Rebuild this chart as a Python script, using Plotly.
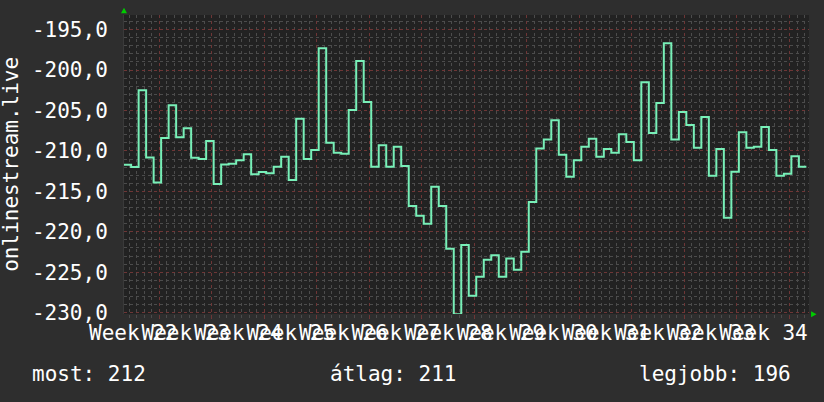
import numpy as np
import plotly.graph_objects as go

# daily values (negated rank), one step per day
values = [
    -211.7, -212.0, -202.5, -210.8, -213.9, -208.4, -204.35, -208.3, -207.2, -210.86,
    -211.0, -208.76, -214.1, -211.67, -211.6, -211.14, -210.4, -212.9, -212.6, -212.75,
    -211.97, -210.73, -213.6, -206.04, -211.0, -209.9, -197.3, -209.0, -210.24, -210.36,
    -204.93, -198.9, -203.94, -211.97, -209.3, -211.97, -209.5, -211.85, -216.8, -218.0,
    -219.0, -214.44, -216.82, -222.1, -230.2, -221.64, -227.9, -225.55, -223.45, -222.9,
    -225.55, -223.3, -224.7, -222.47, -216.33, -209.7, -208.6, -206.2, -210.49, -213.2,
    -211.14, -209.5, -208.5, -210.73, -209.75, -210.24, -207.93, -208.9, -211.14, -201.5,
    -207.8, -204.07, -196.7, -208.6, -205.2, -206.8, -209.62, -205.8, -213.08, -209.75,
    -218.27, -212.59, -207.68, -209.62, -209.5, -207.03, -209.9, -213.08, -212.83, -210.65,
    -211.97,
]
week_labels = ["Week %d" % w for w in range(22, 35)]
y_ticks = [-230, -225, -220, -215, -210, -205, -200, -195]
y_ticktext = ["%d,0" % v for v in y_ticks]
summary = [("most", 212), ("átlag", 211), ("legjobb", 196)]

FONT = "DejaVu Sans Mono"
FS = 21
first_week = 4.75  # day offset of first week boundary
days = np.arange(len(values) + 1)
steps = values + [values[-1]]
week_starts = [first_week + 7 * i for i in range(len(week_labels))]

MAJOR = "#6e3636"
MINOR = "#4c4c4c"

fig = go.Figure()
fig.add_trace(go.Scatter(
    x=days, y=steps, mode="lines", line_shape="hv",
    line=dict(color="#78f0b8", width=2), hoverinfo="skip",
))

fig.update_layout(
    width=824, height=402,
    margin=dict(l=124, r=15, t=15, b=88),
    paper_bgcolor="#2e2e2e", plot_bgcolor="#222222",
    showlegend=False,
    font=dict(family=FONT, size=FS, color="#ffffff"),
)
fig.update_xaxes(
    range=[0.05, 91.35], tickmode="array", tickvals=week_starts, ticktext=week_labels,
    ticklabelshift=-26, tickangle=0, ticks="outside", ticklen=4, tickcolor=MAJOR,
    ticklabelstandoff=-4,
    showgrid=True, gridcolor=MAJOR, griddash="dot", gridwidth=1,
    zeroline=False, showline=False,
    minor=dict(tickmode="linear", tick0=first_week, dtick=1, showgrid=True,
               gridcolor=MINOR, griddash="dot", ticks="outside", ticklen=3,
               tickcolor=MINOR),
)
fig.update_yaxes(
    range=[-230.16, -193.2], tickmode="array", tickvals=y_ticks, ticktext=y_ticktext,
    ticks="", ticklabelstandoff=11,
    showgrid=True, gridcolor=MAJOR, griddash="dot", gridwidth=1,
    zeroline=False, showline=True, linecolor="#3a3a3a",
    minor=dict(tickmode="linear", tick0=-230, dtick=1, showgrid=True,
               gridcolor=MINOR, griddash="dot"),
)

fig.add_annotation(
    text="onlinestream.live", textangle=-90, xref="paper", yref="paper",
    x=-0.166, y=0.5, xanchor="center", yanchor="middle", showarrow=False,
    font=dict(family=FONT, size=FS, color="#ffffff"),
)
for (name, val), xp in zip(summary, [-0.137, 0.298, 0.7485]):
    fig.add_annotation(
        text="%s: %d" % (name, val), xref="paper", yref="paper",
        x=xp, y=-0.2, xanchor="left", yanchor="middle", showarrow=False,
        font=dict(family=FONT, size=FS, color="#ffffff"),
    )

# green axis arrows
fig.add_shape(type="path", xref="paper", yref="paper",
              path="M -0.0044,1.006 L 0.0044,1.006 L 0,1.024 Z",
              fillcolor="#00cc00", line=dict(width=0))
fig.add_shape(type="path", xref="paper", yref="paper",
              path="M 1.003,-0.011 L 1.003,0.009 L 1.011,-0.001 Z",
              fillcolor="#00cc00", line=dict(width=0))

fig.write_html("out.html", config={"displayModeBar": False},
               post_script="document.body.style.margin='0';")
